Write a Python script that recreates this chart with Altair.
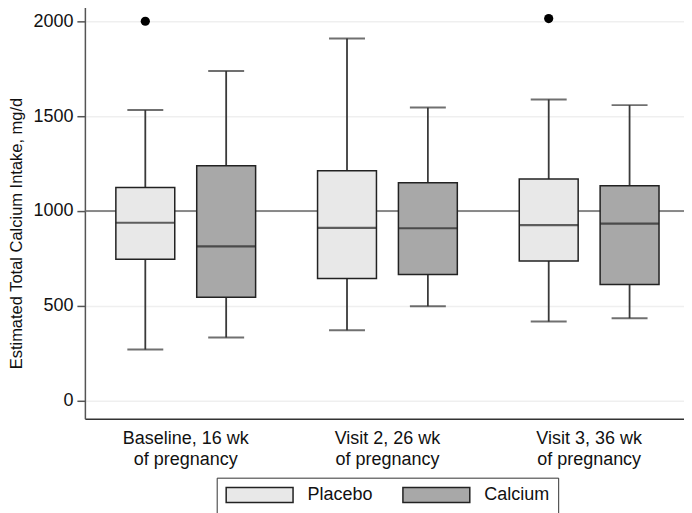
import altair as alt
import pandas as pd

groups = ["Baseline, 16 wk\nof pregnancy", "Visit 2, 26 wk\nof pregnancy", "Visit 3, 36 wk\nof pregnancy"]
series = ["Placebo", "Calcium"]
colors = ["#e8e8e8", "#a8a8a8"]

low_placebo = [270, 372, 417]
q1_placebo = [746, 644, 737]
med_placebo = [938, 911, 926]
q3_placebo = [1124, 1212, 1168]
high_placebo = [1532, 1909, 1588]

low_calcium = [333, 498, 435]
q1_calcium = [546, 665, 612]
med_calcium = [814, 909, 933]
q3_calcium = [1238, 1149, 1133]
high_calcium = [1738, 1545, 1558]

outlier_group = [groups[0], groups[2]]
outlier_series = ["Placebo", "Placebo"]
outlier_value = [2000, 2014]

ref_value = [1000]
y_ticks = [0, 500, 1000, 1500, 2000]

rows = []
for i, g in enumerate(groups):
    rows.append(dict(group=g, series="Placebo", low=low_placebo[i], q1=q1_placebo[i],
                     med=med_placebo[i], q3=q3_placebo[i], high=high_placebo[i]))
    rows.append(dict(group=g, series="Calcium", low=low_calcium[i], q1=q1_calcium[i],
                     med=med_calcium[i], q3=q3_calcium[i], high=high_calcium[i]))
df = pd.DataFrame(rows)
out_df = pd.DataFrame(dict(group=outlier_group, series=outlier_series, value=outlier_value))
ref_df = pd.DataFrame(dict(v=ref_value))

FONT = "Liberation Sans"

x_enc = alt.X("group:N", sort=groups,
              scale=alt.Scale(paddingInner=0, paddingOuter=0),
              axis=alt.Axis(title=None, ticks=False, labelAngle=0,
                            labelExpr="split(datum.label, '\\n')",
                            labelFontSize=18, labelFont=FONT, labelColor="#111",
                            labelPadding=11, labelLineHeight=21,
                            domainColor="#333", domainWidth=1.5, grid=False))
xo_enc = alt.XOffset("series:N", sort=series,
                     scale=alt.Scale(domain=series, paddingInner=0.2716, paddingOuter=0.383))
y_scale = alt.Scale(domain=[-95, 2110], nice=False, zero=False)
y_axis = alt.Axis(title="Estimated Total Calcium Intake, mg/d", values=y_ticks, format="d",
                  titleFontSize=16.5, titleFont=FONT, titleFontWeight="normal", titleColor="#111",
                  titlePadding=8, titleY=233,
                  labelFontSize=18, labelFont=FONT, labelColor="#111", labelPadding=4,
                  tickSize=8, tickColor="#555", tickWidth=1.5,
                  domainColor="#555", domainWidth=1.5,
                  grid=True, gridColor="#efefef", gridWidth=1.5)

base = alt.Chart(df)

grid_ref = alt.Chart(ref_df).mark_rule(color="#666", strokeWidth=1.5).encode(
    y=alt.Y("v:Q", scale=y_scale, axis=y_axis))

whisk = base.mark_rule(color="#3a3a3a", strokeWidth=1.8).encode(
    x=x_enc, xOffset=xo_enc,
    y=alt.Y("low:Q", scale=y_scale, axis=y_axis), y2="high:Q")

cap_lo = base.mark_tick(orient="horizontal", size=36, thickness=2, color="#333").encode(
    x=x_enc, xOffset=xo_enc, y=alt.Y("low:Q", scale=y_scale, axis=y_axis))
cap_hi = base.mark_tick(orient="horizontal", size=36, thickness=2, color="#333").encode(
    x=x_enc, xOffset=xo_enc, y=alt.Y("high:Q", scale=y_scale, axis=y_axis))

box = base.mark_bar(stroke="#222", strokeWidth=1.5, opacity=1).encode(
    x=x_enc, xOffset=xo_enc,
    y=alt.Y("q1:Q", scale=y_scale, axis=y_axis), y2="q3:Q",
    fill=alt.Fill("series:N", sort=series,
                  scale=alt.Scale(domain=series, range=colors),
                  legend=alt.Legend(title=None, orient="none", direction="horizontal",
                                    legendX=132, legendY=478,
                                    symbolType="M-1,-1L7.93,-1L7.93,1L-1,1Z",
                                    symbolSize=225, symbolStrokeColor="#222",
                                    symbolStrokeWidth=1.5, symbolOpacity=1,
                                    labelFontSize=18, labelFont=FONT, labelColor="#111",
                                    labelOffset=65, columnPadding=26,
                                    padding=8, strokeColor="#333", fillColor="white",
                                    cornerRadius=0)))

med = base.mark_tick(orient="horizontal", size=59, thickness=2.2, color="#222").encode(
    x=x_enc, xOffset=xo_enc, y=alt.Y("med:Q", scale=y_scale, axis=y_axis))

pts = alt.Chart(out_df).mark_circle(color="black", size=85, opacity=1).encode(
    x=x_enc, xOffset=xo_enc, y=alt.Y("value:Q", scale=y_scale, axis=y_axis))

chart = alt.layer(grid_ref, whisk, cap_lo, cap_hi, box, med, pts).properties(
    width=606, height=419,
    padding={"left": 0, "top": -8, "right": -7, "bottom": 0}
).configure_view(stroke=None)

chart.save("out.html", embed_options={"renderer": "svg", "actions": False})
